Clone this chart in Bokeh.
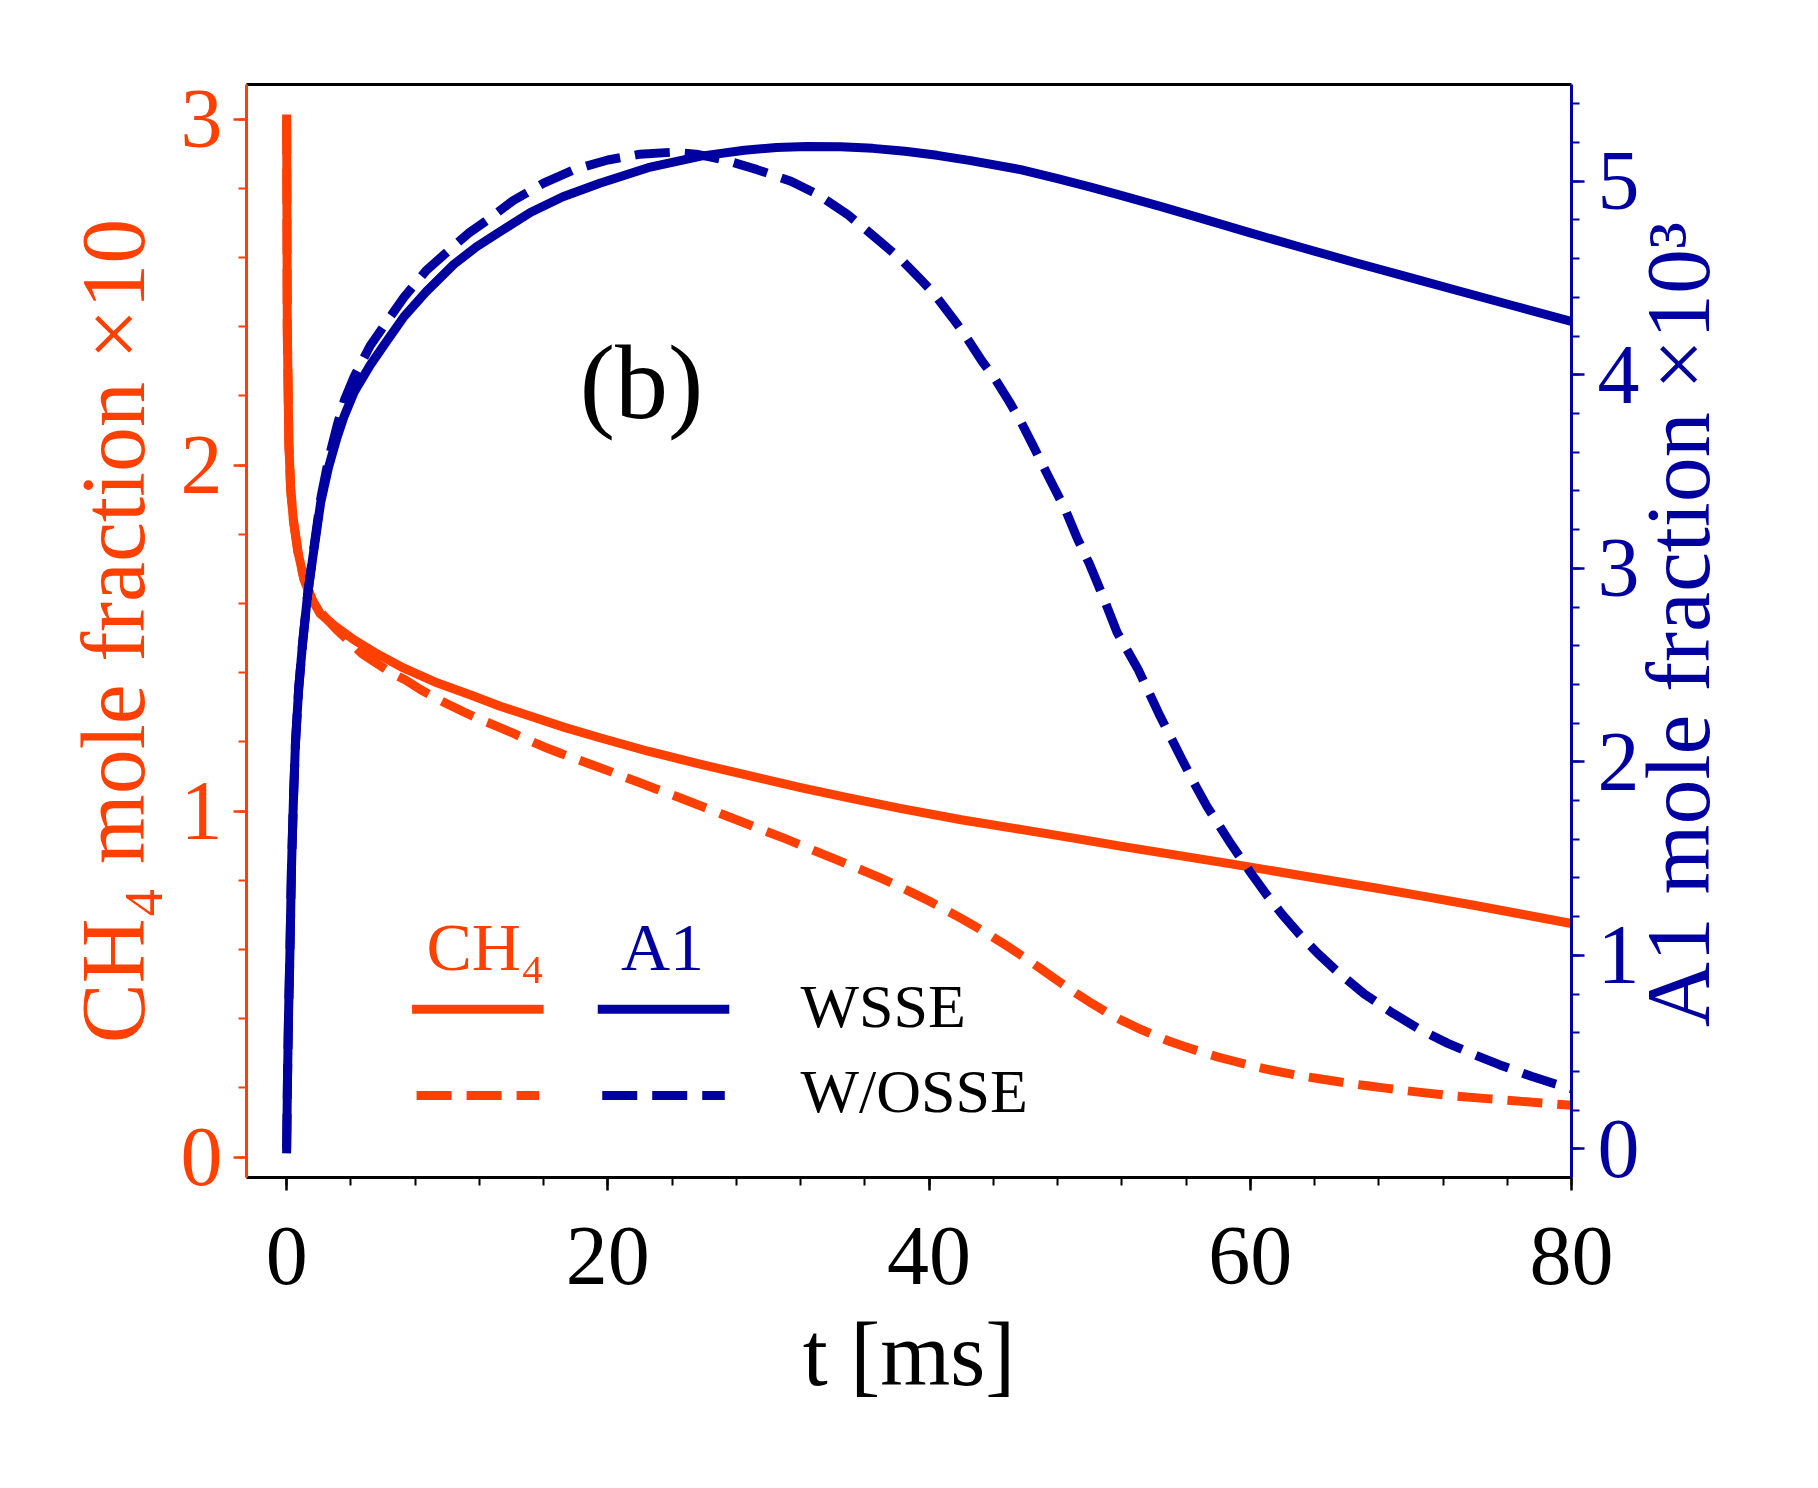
import math
from bokeh.plotting import figure
from bokeh.models import Range1d, LinearAxis, SingleIntervalTicker, FixedTicker, Label
from bokeh.embed import file_html
from bokeh.resources import INLINE

# ---------------- data ----------------
# CH4 mole fraction x10 (left axis), t in ms
T_CH4_WSSE = [0, 0.04, 0.14, 0.25, 0.42, 0.7, 1.08, 1.6, 2.1, 3.0, 4.2, 5.5, 7.3, 9.4,
              11.5, 13.3, 15.2, 17.3, 19.5, 22.5, 25.8, 29, 32, 35, 38.2, 42, 45.7, 49,
              52, 55.5, 59, 63.5, 67.9, 71, 74, 77, 80]
V_CH4_WSSE = [3.0, 2.39, 2.06, 1.93, 1.84, 1.75, 1.67, 1.61, 1.57, 1.535, 1.495, 1.458, 1.413, 1.37,
              1.335, 1.303, 1.274, 1.242, 1.212, 1.173, 1.135, 1.10, 1.068, 1.038, 1.008, 0.975,
              0.947, 0.922, 0.898, 0.872, 0.846, 0.811, 0.777, 0.752, 0.727, 0.701, 0.675]

T_CH4_WOSSE = [0, 0.04, 0.14, 0.25, 0.42, 0.7, 1.08, 1.6, 2.3, 3.1, 4.0, 4.7, 5.5, 6.5, 7.4, 8.3,
               9.3, 10.2, 11.1, 12.2, 13.1, 14.1, 15.2, 16, 17, 18.1, 19, 20, 21, 22, 23, 24, 25,
               26, 27, 28, 29, 30, 31, 32, 33, 34, 35, 36, 37, 38, 39, 40, 41, 42, 43, 44, 45,
               46, 47, 48, 49, 50, 51, 52, 53, 54, 55, 56, 57, 58, 59, 60, 61, 62, 63, 64.2,
               65.2, 66.3, 67.3, 68.3, 70.6, 72.6, 74.7, 76.9, 78.5, 80]
V_CH4_WOSSE = [3.0, 2.39, 2.06, 1.93, 1.84, 1.75, 1.67, 1.61, 1.565, 1.525, 1.486, 1.455, 1.43, 1.40,
               1.379, 1.352, 1.326, 1.305, 1.285, 1.262, 1.245, 1.225, 1.202, 1.186, 1.168, 1.149,
               1.134, 1.117, 1.099, 1.082, 1.064, 1.047, 1.029, 1.011, 0.993, 0.975, 0.957, 0.939,
               0.921, 0.902, 0.883, 0.864, 0.845, 0.826, 0.806, 0.785, 0.763, 0.74, 0.715, 0.69,
               0.663, 0.635, 0.606, 0.575, 0.543, 0.51, 0.478, 0.448, 0.42, 0.395, 0.373, 0.353,
               0.334, 0.318, 0.303, 0.289, 0.277, 0.265, 0.254, 0.245, 0.236, 0.227, 0.220,
               0.212, 0.206, 0.200, 0.187, 0.177, 0.169, 0.161, 0.155, 0.150]

# A1 mole fraction x10^3 (right axis)
T_A1_WSSE = [0, 0.05, 0.12, 0.2, 0.3, 0.42, 0.55, 0.75, 1.0, 1.3, 1.6, 2.12, 2.6, 3.15, 3.6, 4.2,
             5.2, 6.2, 7.3, 8.7, 10.4, 11.8, 13.3, 15.2, 17.2, 19.5, 22.5, 25.8, 28.5, 30.5,
             32.4, 34.5, 36.5, 38.5, 40.5, 42.5, 45.7, 48, 50, 52, 54.5, 57, 60, 63.3, 66.5,
             69.9, 73, 76.5, 80]
V_A1_WSSE = [0.0, 0.35, 0.7, 1.0, 1.45, 1.8, 2.1, 2.38, 2.62, 2.86, 3.04, 3.34, 3.52, 3.68, 3.79,
             3.91, 4.05, 4.17, 4.30, 4.43, 4.57, 4.66, 4.74, 4.84, 4.92, 4.99, 5.07, 5.13, 5.16,
             5.175, 5.18, 5.178, 5.17, 5.155, 5.134, 5.108, 5.06, 5.013, 4.971, 4.926, 4.868,
             4.807, 4.733, 4.655, 4.58, 4.503, 4.433, 4.354, 4.275]

T_A1_WOSSE = [0, 0.05, 0.12, 0.2, 0.3, 0.42, 0.55, 0.75, 1.0, 1.3, 1.6, 2.12, 2.6, 3.15, 3.6, 4.2,
              5.2, 6.2, 7.3, 8.7, 10.2, 11.3, 12.5, 14.1, 16, 17.9, 20, 22, 24, 25.5, 27.3, 29.3,
              31.4, 33.1, 34.9, 36.5, 38.2, 39.5, 40.3, 41.5, 42.2, 43.3, 44.1, 45, 45.7, 46.5,
              47.4, 48.5, 49.2, 50, 50.8, 51.7, 53, 54.3, 55.7, 56.5, 57.3, 58.8, 60, 61, 62,
              63.1, 64.2, 65.5, 67.1, 68.9, 70.5, 72.3, 74, 75.5, 77.5, 79, 80]
V_A1_WOSSE = [0.0, 0.35, 0.7, 1.0, 1.45, 1.8, 2.1, 2.38, 2.62, 2.86, 3.05, 3.36, 3.56, 3.74, 3.87,
              3.99, 4.15, 4.27, 4.40, 4.54, 4.65, 4.73, 4.80, 4.90, 4.99, 5.06, 5.11, 5.14, 5.15,
              5.14, 5.11, 5.06, 5.00, 4.93, 4.83, 4.72, 4.60, 4.49, 4.42, 4.29, 4.21, 4.07, 3.98,
              3.86, 3.76, 3.63, 3.48, 3.30, 3.16, 3.02, 2.86, 2.67, 2.48, 2.25, 2.02, 1.89, 1.77,
              1.575, 1.43, 1.315, 1.21, 1.105, 1.01, 0.91, 0.80, 0.70, 0.62, 0.545, 0.485, 0.435,
              0.375, 0.335, 0.31]

X_TICKS_INTERVAL = 20
X_LABEL = "t [ms]"
Y_LEFT_LABEL = "CH\u2084 mole fraction \u00d710"
Y_RIGHT_LABEL = "A1 mole fraction \u00d710\u00b3"
SPECIES = ["CH\u2084", "A1"]
CASES = ["WSSE", "W/OSSE"]
PANEL_TAG = "(b)"

# ---------------- styling / layout ----------------
FONT = "Liberation Serif"
ORANGE = "#FF4000"
BLUE = "#0000A0"
LW = 9
DASH = "35 15"

X_RANGE = (-2.5, 80.0)
Y_LEFT = (-0.059, 3.10)
Y_RIGHT = (-0.148, 5.50)
RIGHT_TITLE_START = 0.63   # where the right-hand title text begins (right-axis units)

p = figure(width=1818, height=1488,
           x_range=Range1d(*X_RANGE), y_range=Range1d(*Y_LEFT),
           output_backend="svg", toolbar_location=None,
           min_border_left=246, min_border_right=247,
           min_border_top=84, min_border_bottom=311)
p.extra_y_ranges = {"a1": Range1d(*Y_RIGHT)}
p.grid.visible = False
p.outline_line_color = None
p.background_fill_color = "white"
p.border_fill_color = "white"


def style_axis(ax, color, standoff, label=None, label_standoff=0):
    ax.axis_line_color = color
    ax.axis_line_width = 3
    ax.major_tick_line_color = color
    ax.minor_tick_line_color = color
    ax.major_tick_line_width = 2.5
    ax.minor_tick_line_width = 2
    ax.major_tick_out = 13
    ax.major_tick_in = 0
    ax.minor_tick_out = 8
    ax.minor_tick_in = 0
    ax.major_label_text_color = color
    ax.major_label_text_font = FONT
    ax.major_label_text_font_size = "84px"
    ax.major_label_standoff = standoff
    if label is not None:
        ax.axis_label = label
        ax.axis_label_text_font = FONT
        ax.axis_label_text_font_size = "90px"
        ax.axis_label_text_font_style = "normal"
        ax.axis_label_text_color = color
        ax.axis_label_standoff = label_standoff


xa = p.xaxis[0]
xa.ticker = SingleIntervalTicker(interval=X_TICKS_INTERVAL, num_minor_ticks=5)
style_axis(xa, "black", 37, X_LABEL, 18)

ya = p.yaxis[0]
ya.ticker = SingleIntervalTicker(interval=1, num_minor_ticks=5)
style_axis(ya, ORANGE, 11, Y_LEFT_LABEL, 15)

yr = LinearAxis(y_range_name="a1", ticker=SingleIntervalTicker(interval=1, num_minor_ticks=5))
style_axis(yr, BLUE, 13)
p.add_layout(yr, "right")

# right-hand title, written bottom-to-top like the left one
yr_title = LinearAxis(y_range_name="a1", ticker=FixedTicker(ticks=[RIGHT_TITLE_START]),
                      major_label_overrides={RIGHT_TITLE_START: Y_RIGHT_LABEL},
                      major_label_orientation=math.pi / 2,
                      axis_line_color=None, major_tick_line_color=None,
                      minor_tick_line_color=None, major_tick_out=0, major_tick_in=0,
                      minor_tick_out=0, minor_tick_in=0,
                      major_label_text_font=FONT, major_label_text_font_size="90px",
                      major_label_text_color=BLUE, major_label_standoff=36)
p.add_layout(yr_title, "right")

top = LinearAxis(ticker=FixedTicker(ticks=[]), axis_line_color="black", axis_line_width=3,
                 major_tick_line_color=None, minor_tick_line_color=None,
                 major_label_text_font_size="0px")
p.add_layout(top, "above")

# ---------------- curves ----------------
p.line(T_CH4_WSSE, V_CH4_WSSE, line_color=ORANGE, line_width=LW, line_cap="square", line_join="round")
p.line(T_CH4_WOSSE, V_CH4_WOSSE, line_color=ORANGE, line_width=LW, line_dash=DASH, line_join="round")
p.line(T_A1_WSSE, V_A1_WSSE, line_color=BLUE, line_width=LW, line_cap="square", line_join="round",
       y_range_name="a1")
p.line(T_A1_WOSSE, V_A1_WOSSE, line_color=BLUE, line_width=LW, line_dash=DASH, line_join="round",
       y_range_name="a1")

# ---------------- hand-made legend ----------------
LEG_KEY_T = {"CH4": (8.09, 15.72), "A1": (19.65, 27.28)}
LEG_ROW_V = {"WSSE": 0.427, "W/OSSE": 0.178}
LEG_TEXT_T = 32.0
LEG_TEXT_V = {"WSSE": 0.436, "W/OSSE": 0.191}
LEG_HEAD_T = {"CH4": 12.38, "A1": 23.4}
LEG_HEAD_V = 0.606

for key, col in (("CH4", ORANGE), ("A1", BLUE)):
    t0, t1 = LEG_KEY_T[key]
    v = LEG_ROW_V["WSSE"]
    p.line([t0, t1], [v, v], line_color=col, line_width=LW, line_cap="square")
    v = LEG_ROW_V["W/OSSE"]
    p.line([t0, t1], [v, v], line_color=col, line_width=LW, line_dash=DASH)

for name, key, col in ((SPECIES[0], "CH4", ORANGE), (SPECIES[1], "A1", BLUE)):
    p.add_layout(Label(x=LEG_HEAD_T[key], y=LEG_HEAD_V, text=name, text_font=FONT,
                       text_font_size="68px", text_color=col, text_align="center",
                       text_baseline="alphabetic"))
for case in CASES:
    p.add_layout(Label(x=LEG_TEXT_T, y=LEG_TEXT_V[case], text=case, text_font=FONT,
                       text_font_size="62px", text_color="black", text_align="left",
                       text_baseline="alphabetic"))

p.add_layout(Label(x=22.1, y=2.24, text=PANEL_TAG, text_font=FONT, text_font_size="106px",
                   text_color="black", text_align="center", text_baseline="alphabetic"))

open("out.html", "w").write(file_html(p, INLINE))
